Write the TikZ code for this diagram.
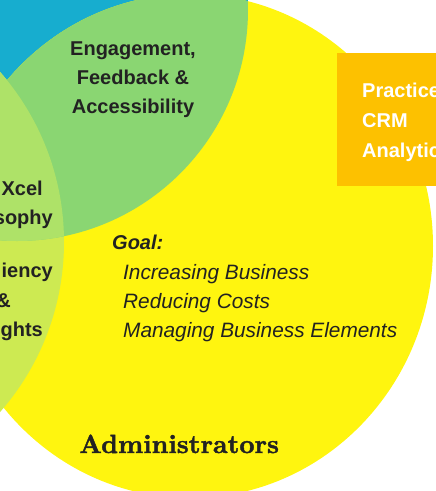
\documentclass[tikz,border=0pt]{standalone}
\usepackage{fontspec}
\newfontfamily\arial{Liberation Sans}
\newfontfamily\heavyserif[FakeBold=1.6]{lmroman10-bold.otf}
\definecolor{cblue}{HTML}{17ADCF}
\definecolor{cyellow}{HTML}{FFF50F}
\definecolor{cyg}{HTML}{CDEA52}
\definecolor{clens}{HTML}{8AD672}
\definecolor{clg}{HTML}{AEE268}
\definecolor{corange}{HTML}{FDC100}
\definecolor{ctext}{HTML}{222222}
\begin{document}
\begin{tikzpicture}[x=1pt,y=-1pt,
  lbl/.style={font=\arial\bfseries\fontsize{20}{24}\selectfont, text=ctext, inner sep=0pt},
  wlbl/.style={font=\arial\bfseries\fontsize{20}{24}\selectfont, text=white, inner sep=0pt, anchor=base west},
  goalhead/.style={font=\arial\bfseries\itshape\fontsize{20}{24}\selectfont, text=ctext, inner sep=0pt, anchor=base west},
  goalitem/.style={font=\arial\itshape\fontsize{20.8}{24}\selectfont, text=ctext, inner sep=0pt, anchor=base west},
  title/.style={font=\heavyserif\fontsize{26.3}{30}\selectfont, text=ctext, inner sep=0pt, anchor=base west}]
\useasboundingbox (0,0) rectangle (436,491);
% circles
\fill[cblue] (17,10) circle (231);
\fill[cyellow] (190,246) ellipse [x radius=243, y radius=252];
\fill[cyg] (-194,242) circle (258);
\begin{scope}
  \clip (17,10) circle (231);
  \fill[clens] (190,246) ellipse [x radius=243, y radius=252];
  \fill[clg] (-194,242) circle (258);
\end{scope}
% orange box
\fill[corange] (337,53) rectangle (440,186);
% texts
\node[lbl, anchor=base] (eng1) at (133,55) {Engagement,};
\node[lbl, anchor=base] (eng2) at (133,84) {Feedback \&};
\node[lbl, anchor=base] (eng3) at (133,113) {Accessibility};
\node[lbl, anchor=base east] (xcel) at (43,195) {Xcel};
\node[lbl, anchor=base east] (soph) at (53,224) {sophy};
\node[lbl, anchor=base east] (effi) at (53,277) {iency};
\node[lbl, anchor=base east] (amp) at (11,307) {\&};
\node[lbl, anchor=base east] (insi) at (43,336) {ghts};
\node[wlbl] (prac) at (362,97) {Practice};
\node[wlbl] (crm) at (362,127) {CRM};
\node[wlbl] (anal) at (362,157) {Analytics};
\node[goalhead] (goal) at (112,249) {Goal:};
\node[goalitem] (g1) at (123,279) {Increasing Business};
\node[goalitem] (g2) at (123,308) {Reducing Costs};
\node[goalitem] (g3) at (123,337) {Managing Business Elements};
\node[title] (admin) at (79,453) {Administrators};
\end{tikzpicture}
\end{document}
